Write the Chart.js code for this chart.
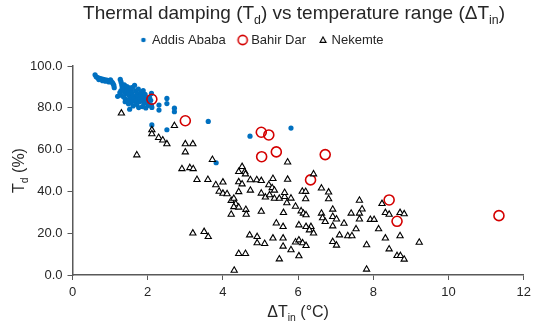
<!DOCTYPE html>
<html><head><meta charset="utf-8">
<script src="https://cdn.jsdelivr.net/npm/chart.js@4/dist/chart.umd.min.js"></script>
<style>html,body{margin:0;padding:0;background:#fff}canvas{display:block}</style>
</head><body>
<canvas id="c" width="536" height="326"></canvas>
<script>
// ---- data (x = ΔTin in °C, y = Td in %) ----
const seriesNames = ['Addis Ababa', 'Bahir Dar', 'Nekemte'];
const addisAbaba = [
[0.60,95.8],[0.63,94.8],[0.67,94.4],[0.72,94.1],[0.77,93.9],[0.82,93.6],[0.86,93.4],[0.91,93.3],[0.95,93.0],[0.99,92.8],
[1.03,92.6],[1.06,92.1],[1.08,91.5],[1.10,90.7],[1.11,89.6],[0.70,93.5],[0.80,93.0],[0.88,92.7],[0.97,92.4],[1.01,93.4],
[1.20,85.5],[1.27,93.6],[1.29,92.4],[1.31,91.2],[1.32,90.1],[1.34,89.1],[1.29,88.2],[1.26,87.3],[1.37,88.4],[1.40,87.6],
[1.43,86.6],[1.46,88.7],[1.49,87.3],[1.51,86.0],[1.53,84.6],[1.41,84.2],[1.36,85.2],[1.46,83.6],[1.56,88.3],[1.58,86.9],
[1.61,85.6],[1.63,84.3],[1.66,83.1],[1.56,82.6],[1.49,81.9],[1.40,82.9],[1.68,88.1],[1.71,86.6],[1.73,85.3],[1.76,84.1],
[1.78,82.9],[1.71,81.6],[1.61,80.9],[1.52,79.3],[1.81,87.3],[1.83,85.9],[1.86,84.6],[1.88,83.3],[1.90,82.1],[1.86,80.6],
[1.76,80.1],[1.93,86.4],[1.95,85.1],[1.98,83.9],[2.00,82.6],[2.02,81.2],[1.95,79.9],[2.05,84.9],[2.08,83.6],[1.38,91.0],
[1.45,90.2],[1.52,89.5],[1.60,89.8],[1.75,88.9],[1.65,90.8],[1.88,88.2],[1.30,86.0],
[2.10,86.9],[2.10,81.3],[2.11,80.2],[2.30,81.3],[2.30,78.9],[2.51,84.5],[2.51,82.0],[2.71,79.8],[2.71,78.1],
[2.11,71.8],[2.51,69.5],[3.61,73.5],[4.72,66.4],[5.81,70.3],[3.82,53.7]
];
const bahirDar = [
[2.11,84.1],[3.00,73.8],[5.02,68.3],[5.22,67.0],[5.03,56.6],[5.42,58.9],[6.72,57.6],[6.33,45.5],[8.42,35.9],[8.63,25.7],[11.34,28.4]
];
const nekemte = [
[1.30,77.4],[2.11,69.4],[2.11,67.5],[2.71,71.4],[2.29,65.7],[2.40,64.5],[2.51,62.7],[1.71,57.4],[3.00,62.7],[3.20,62.7],
[3.00,58.8],[3.72,55.2],[2.91,50.8],[3.12,51.3],[3.21,50.8],[3.31,45.6],[3.60,45.6],[3.81,43.1],[4.00,44.4],[3.90,40.0],
[4.00,39.0],[4.11,38.8],[4.22,35.6],[4.29,36.6],[4.34,34.0],[4.29,32.6],[4.42,32.4],[4.22,29.0],[4.61,31.3],[4.62,29.0],
[4.42,49.4],[4.51,51.8],[4.58,49.4],[4.60,48.3],[4.42,44.5],[4.51,43.5],[4.42,39.8],[4.73,45.5],[4.73,40.5],[4.90,45.5],
[5.02,45.1],[5.33,46.1],[5.72,45.7],[5.22,43.1],[5.31,41.7],[5.37,40.5],[5.02,39.1],[5.13,37.2],[5.24,38.3],[5.37,36.6],
[5.50,36.6],[5.64,37.5],[5.64,39.4],[5.70,34.5],[5.81,36.7],[5.02,30.4],[5.61,29.8],[5.93,32.8],[6.08,30.6],[6.14,29.5],
[6.21,28.7],[6.11,40.0],[6.20,39.9],[6.20,36.4],[5.72,54.0],[6.41,48.3],[6.62,41.5],[6.81,39.6],[6.81,36.4],[6.62,29.5],
[6.65,27.3],[6.72,25.5],[6.92,31.4],[6.92,27.9],[7.02,26.7],[7.22,24.7],[6.92,23.4],[7.41,29.5],[7.63,35.7],[7.70,31.5],
[7.63,29.5],[7.63,26.7],[7.54,22.0],[7.92,26.5],[8.02,26.5],[8.14,22.0],[8.23,34.1],[8.32,29.8],[8.42,29.0],[8.71,29.8],
[8.82,29.2],[8.32,17.6],[8.71,18.7],[9.22,15.6],[7.82,14.4],[8.42,12.4],[8.63,9.2],[8.72,9.2],[8.82,7.5],[7.82,2.7],
[5.42,24.8],[5.60,23.1],[6.02,23.9],[6.21,23.1],[6.34,23.1],[6.30,21.5],[6.41,20.0],[7.10,19.1],[7.32,18.7],[7.43,18.7],
[6.92,15.9],[7.02,14.2],[4.71,19.1],[4.91,18.3],[4.91,15.3],[5.11,15.0],[5.33,17.6],[5.60,17.6],[5.60,13.7],[5.81,12.0],
[5.93,15.7],[6.02,16.7],[6.12,15.3],[6.21,14.0],[6.02,9.1],[5.50,7.6],[4.42,10.2],[4.60,10.2],[4.30,2.2],[3.20,20.0],
[3.50,20.7],[3.61,18.3]
];
const xTickValues = [0, 2, 4, 6, 8, 10, 12];
const yTickValues = [0, 20, 40, 60, 80, 100];

const FONT = "'Liberation Sans', Arial, Helvetica, sans-serif";
const TEXT = '#262626';
const AXIS = '#595959';

const toPts = a => a.map(p => ({x: p[0], y: p[1]}));

function legendIcon(kind) {
  const c = document.createElement('canvas');
  c.width = 14; c.height = 14;
  const g = c.getContext('2d');
  if (kind === 0) { g.fillStyle = '#0070C0'; g.beginPath(); g.arc(7, 7, 2.3, 0, Math.PI * 2); g.fill(); }
  if (kind === 1) { g.strokeStyle = '#D40000'; g.lineWidth = 1.6; g.beginPath(); g.arc(7, 7, 4.6, 0, Math.PI * 2); g.stroke(); }
  if (kind === 2) { g.strokeStyle = '#000'; g.lineWidth = 1.1; g.beginPath(); g.moveTo(7, 4); g.lineTo(10, 9.4); g.lineTo(4, 9.4); g.closePath(); g.stroke(); }
  return c;
}
const icons = [legendIcon(0), legendIcon(1), legendIcon(2)];

function richWidth(ctx, segs, size) {
  let w = 0;
  for (const s of segs) {
    ctx.font = (s[1] ? size * 0.65 : size) + 'px ' + FONT;
    w += ctx.measureText(s[0]).width;
  }
  return w;
}
function drawRich(ctx, segs, size, x, y, align) {
  const w = richWidth(ctx, segs, size);
  let cx = align === 'center' ? x - w / 2 : x;
  ctx.textBaseline = 'alphabetic';
  ctx.textAlign = 'left';
  for (const s of segs) {
    const sub = !!s[1];
    ctx.font = (sub ? size * 0.65 : size) + 'px ' + FONT;
    ctx.fillText(s[0], cx, y + (sub ? size * 0.28 : 0));
    cx += ctx.measureText(s[0]).width;
  }
}

const textPlugin = {
  id: 'richTexts',
  afterDraw(chart) {
    const ctx = chart.ctx;
    const ca = chart.chartArea;
    ctx.save();
    ctx.fillStyle = TEXT;
    drawRich(ctx, [['Thermal damping (T'], ['d', 1], [') vs temperature range (\u0394T'], ['in', 1], [')']], 19, 294, 18.5, 'center');
    drawRich(ctx, [['\u0394T'], ['in', 1], [' (\u00B0C)']], 16, (ca.left + ca.right) / 2, 317, 'center');
    ctx.translate(24, (ca.top + ca.bottom) / 2);
    ctx.rotate(-Math.PI / 2);
    drawRich(ctx, [['T'], ['d', 1], [' (%)']], 16, 0, 0, 'center');
    ctx.restore();
  }
};

new Chart(document.getElementById('c'), {
  type: 'scatter',
  data: {
    datasets: [
      {label: seriesNames[0], data: toPts(addisAbaba), order: 2, pointStyle: 'circle', pointRadius: 2.6,
       backgroundColor: '#0070C0', borderColor: '#0070C0', borderWidth: 0},
      {label: seriesNames[1], data: toPts(bahirDar), order: 1, pointStyle: 'circle', pointRadius: 5,
       backgroundColor: 'rgba(0,0,0,0)', borderColor: '#D40000', borderWidth: 1.6},
      {label: seriesNames[2], data: toPts(nekemte), order: 0, pointStyle: 'triangle', pointRadius: 3.6,
       backgroundColor: '#ffffff', borderColor: '#000000', borderWidth: 1.1}
    ]
  },
  options: {
    responsive: false,
    animation: false,
    events: [],
    layout: {padding: {left: 0, right: 11, top: 18.5, bottom: 0}},
    plugins: {
      title: {display: false},
      tooltip: {enabled: false},
      legend: {
        display: true, position: 'top',
        labels: {
          usePointStyle: true, boxWidth: 4, boxHeight: 13, padding: 15,
          color: TEXT, font: {family: FONT, size: 13},
          sort: (a, b) => a.datasetIndex - b.datasetIndex,
          generateLabels(chart) {
            const items = Chart.defaults.plugins.legend.labels.generateLabels(chart);
            items.forEach(it => { it.pointStyle = icons[it.datasetIndex]; it.lineWidth = 0; });
            return items;
          }
        }
      }
    },
    scales: {
      xTop: {
        type: 'linear', position: 'top', display: true,
        ticks: {display: false}, grid: {display: false, drawTicks: false}, border: {display: false},
        afterFit(s) { s.height = 9.5; }
      },
      x: {
        type: 'linear', position: 'bottom', min: 0, max: 12,
        afterBuildTicks(s) { s.ticks = xTickValues.map(v => ({value: v})); },
        ticks: {color: TEXT, font: {family: FONT, size: 13}, padding: 5, callback: v => String(v)},
        grid: {display: true, drawOnChartArea: false, drawTicks: true, tickLength: 5, color: AXIS, lineWidth: 1},
        border: {display: true, color: AXIS, width: 1.5},
        afterFit(s) { s.height = 51; }
      },
      y: {
        type: 'linear', position: 'left', min: 0, max: 100,
        afterBuildTicks(s) { s.ticks = yTickValues.map(v => ({value: v})); },
        ticks: {color: TEXT, font: {family: FONT, size: 13}, padding: 5, callback: v => Number(v).toFixed(1)},
        grid: {display: true, drawOnChartArea: false, drawTicks: true, tickLength: 5, color: AXIS, lineWidth: 1},
        border: {display: true, color: AXIS, width: 1.5},
        afterFit(s) { s.width = 72.5; }
      }
    }
  },
  plugins: [textPlugin]
});
</script>
</body></html>
